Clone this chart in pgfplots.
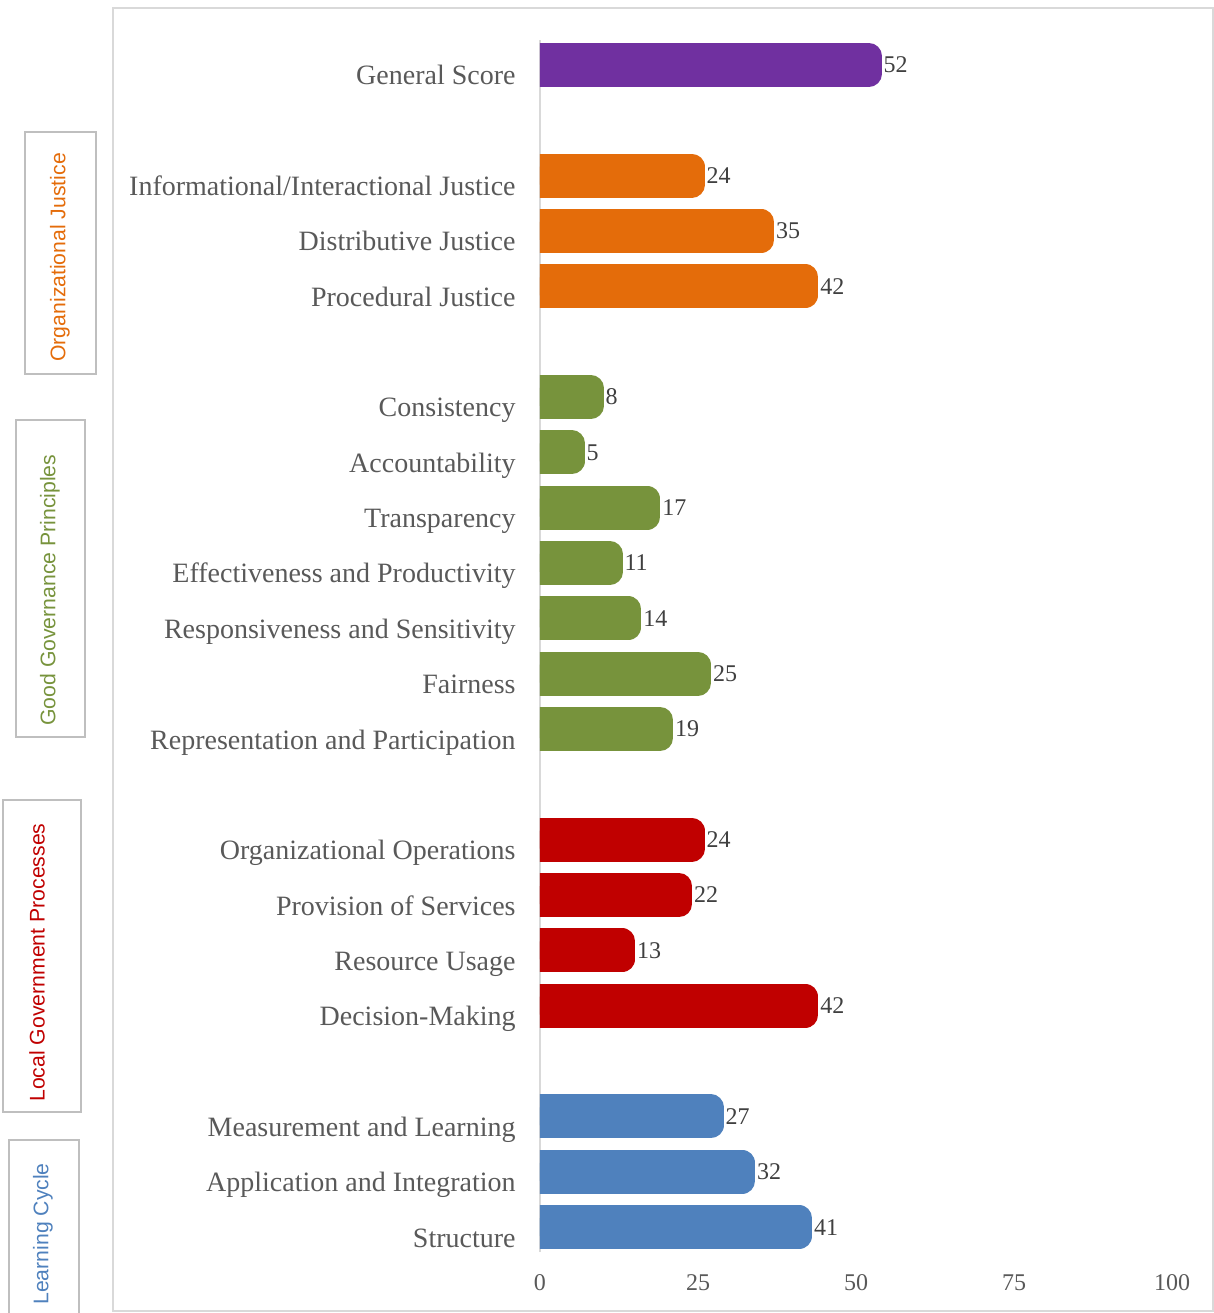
\documentclass[border=0pt]{standalone}
\usepackage{fontspec}
\setmainfont{Liberation Serif}
\setsansfont{Liberation Sans}
\usepackage{pgfplots}
\pgfplotsset{compat=1.18}
\definecolor{cpurple}{HTML}{7030A0}
\definecolor{corange}{HTML}{E46C0A}
\definecolor{cgreen}{HTML}{77933C}
\definecolor{cred}{HTML}{C00000}
\definecolor{cblue}{HTML}{4F81BD}
\definecolor{labgray}{HTML}{595959}
\definecolor{valgray}{HTML}{404040}
\definecolor{linegray}{HTML}{D9D9D9}
\definecolor{boxgray}{HTML}{BFBFBF}
\begin{document}
\begin{tikzpicture}
\begin{scope}[x=0.5pt,y=-0.5pt]
\useasboundingbox (0,0) rectangle (1214,1313);
\draw[linegray, line width=1pt] (113,8) rectangle (1213,1311);
% group label boxes
\draw[boxgray, line width=0.8pt] (25,132) rectangle (96,374);
\draw[boxgray, line width=0.8pt] (16,420) rectangle (85,737);
\draw[boxgray, line width=0.8pt] (3,800) rectangle (81,1112);
\draw[boxgray, line width=0.8pt] (9,1140) rectangle (79,1330);
\begin{scope}[every node/.style={rotate=90, anchor=west, inner sep=0pt, font=\sffamily\fontsize{10.6}{12}\selectfont}]
\node[text=corange] at (60,362) {Organizational Justice};
\node[text=cgreen] at (50,726) {Good Governance Principles};
\node[text=cred] at (37,1102) {Local Government Processes};
\node[text=cblue] at (43,1305) {Learning Cycle};
\end{scope}
\end{scope}
\begin{axis}[
  at={(270pt,-626pt)}, anchor=south west,
  scale only axis, width=316pt, height=606pt,
  xbar, bar width=9pt, bar shift=0pt,
  xmin=0, xmax=100, ymin=-0.45, ymax=21.45,
  axis lines=left, axis line style={-},
  x axis line style={draw=none},
  y axis line style={draw=linegray, line width=1pt},
  major tick length=0pt,
  /pgf/number format/assume math mode=true,
  xtick={0,25,50,75,100},
  xticklabel style={font=\fontsize{12}{12}\selectfont, text=labgray, anchor=north, inner sep=0pt, yshift=-11pt},
  ytick={0,1,2,4,5,6,7,9,10,11,12,13,14,15,17,18,19,21},
  yticklabels={Structure, Application and Integration, Measurement and Learning, Decision-Making, Resource Usage, Provision of Services, Organizational Operations, Representation and Participation, Fairness, Responsiveness and Sensitivity, Effectiveness and Productivity, Transparency, Accountability, Consistency, Procedural Justice, Distributive Justice, Informational/Interactional Justice, General Score},
  yticklabel style={font=\fontsize{14}{14}\selectfont, text=labgray, anchor=base east, inner sep=0pt, xshift=-12pt, yshift=-10pt},
  nodes near coords, point meta=x,
  nodes near coords style={anchor=west, inner sep=0pt, xshift=1pt, font=\fontsize{12}{12}\selectfont, text=valgray},
  every axis plot/.append style={line width=13pt, line join=round},
]
\addplot[fill=cpurple, draw=cpurple] coordinates {(52,21)};
\addplot[fill=corange, draw=corange] coordinates {(24,19) (35,18) (42,17)};
\addplot[fill=cgreen, draw=cgreen] coordinates {(8,15) (5,14) (17,13) (11,12) (14,11) (25,10) (19,9)};
\addplot[fill=cred, draw=cred] coordinates {(24,7) (22,6) (13,5) (42,4)};
\addplot[fill=cblue, draw=cblue] coordinates {(27,2) (32,1) (41,0)};
\end{axis}
\end{tikzpicture}
\end{document}
